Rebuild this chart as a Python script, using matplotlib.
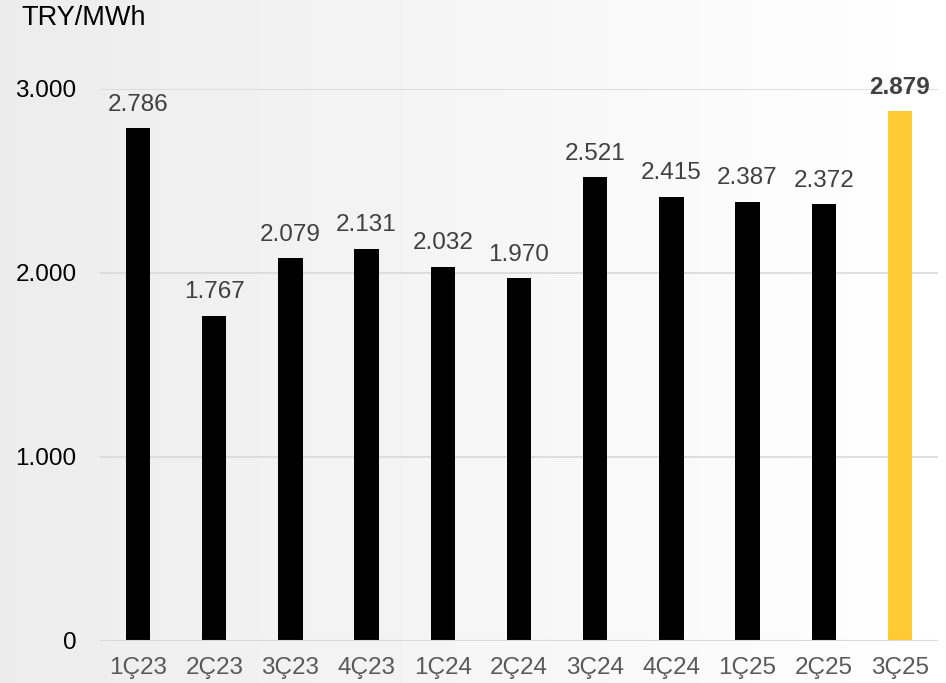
import numpy as np
import matplotlib
matplotlib.use("Agg")
import matplotlib.pyplot as plt

quarters = ["1Ç23", "2Ç23", "3Ç23", "4Ç23", "1Ç24", "2Ç24",
            "3Ç24", "4Ç24", "1Ç25", "2Ç25", "3Ç25"]
prices = [2786, 1767, 2079, 2131, 2032, 1970, 2521, 2415, 2387, 2372, 2879]
price_labels = ["2.786", "1.767", "2.079", "2.131", "2.032", "1.970",
                "2.521", "2.415", "2.387", "2.372", "2.879"]
yticks = [0, 1000, 2000, 3000]
ytick_labels = ["0", "1.000", "2.000", "3.000"]

plt.rcParams["font.family"] = ["Liberation Sans", "DejaVu Sans"]
FS = 17.5

fig = plt.figure(figsize=(9.46, 6.83), dpi=100)

# background gradient: light gray on the left fading to white
bg = fig.add_axes([0, 0, 1, 1], zorder=-10)
grad = np.linspace(0.925, 1.0, 256).reshape(1, -1)
bg.imshow(grad, aspect="auto", cmap="gray", vmin=0, vmax=1,
          extent=[0, 1, 0, 1])
bg.axis("off")

ax = fig.add_axes([0.1057, 0.0622, 0.8858, 0.8075])
ax.patch.set_alpha(0)

colors = ["#000000"] * (len(quarters) - 1) + ["#FFCA32"]
x = np.arange(len(quarters))
bars = ax.bar(x, prices, width=0.32, color=colors, zorder=3)

for i, (b, lab) in enumerate(zip(bars, price_labels)):
    last = i == len(quarters) - 1
    ax.annotate(lab, (b.get_x() + b.get_width() / 2, b.get_height()),
                xytext=(0, 9), textcoords="offset points",
                ha="center", va="bottom", fontsize=FS,
                color="#404040", fontweight="bold" if last else "normal",
                annotation_clip=False)

ax.set_xlim(-0.5, len(quarters) - 0.5)
ax.set_ylim(0, 3000)
ax.set_yticks(yticks)
ax.set_yticklabels(ytick_labels)
ax.set_xticks(x)
ax.set_xticklabels(quarters)
ax.tick_params(axis="y", length=0, pad=17, labelsize=FS, labelcolor="#000000")
ax.tick_params(axis="x", length=0, pad=12, labelsize=FS, labelcolor="#595959")

for v in yticks[1:]:
    ax.axhline(v, color="#d9d9d9", lw=1.2, zorder=1)
ax.axhline(0, color="#d9d9d9", lw=1.5, zorder=4)

for s in ax.spines.values():
    s.set_visible(False)

fig.text(0.023, 0.993, "TRY/MWh", fontsize=19.5, color="#000000",
         ha="left", va="top")

fig.savefig("out.png", dpi=100)
